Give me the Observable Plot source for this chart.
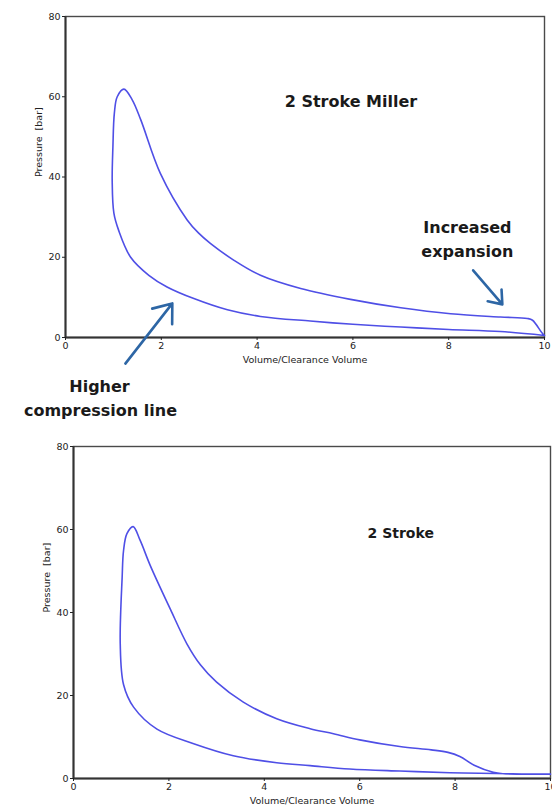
<!DOCTYPE html>
<html>
<head>
<meta charset="utf-8">
<script src="https://cdn.jsdelivr.net/npm/d3@7"></script>
<script src="https://cdn.jsdelivr.net/npm/@observablehq/plot@0.6"></script>
<style>
  html, body { margin: 0; padding: 0; background: #fff; overflow: hidden; }
  #charts svg { display: block; }
</style>
</head>
<body>
<div id="charts"></div>
<script>
// Axis ticks shared by both indicator diagrams
const xTicks = [0, 2, 4, 6, 8, 10];
const yTicks = [0, 20, 40, 60, 80];
const xTitle = "Volume/Clearance Volume";
const yTitle = "Pressure  [bar]";

// 2-stroke Miller cycle: compression (right to left), peak, expansion, blowdown
const millerVolume = [10.0, 9.08, 8.0, 7.0, 6.0, 5.11, 4.07, 3.38, 2.68, 2.12, 1.74, 1.36, 1.11, 1.01, 0.975, 0.99, 1.02, 1.08, 1.22,
  1.39, 1.57, 1.98, 2.54, 2.78, 3.03, 3.51, 4.07, 4.91, 5.95, 7.0, 8.04, 9.08, 9.64, 9.75, 9.95, 10.0];
const millerPressure = [0.5, 1.5, 2.0, 2.6, 3.3, 4.1, 5.25, 6.9, 9.7, 12.6, 15.5, 20.0, 26.7, 31.0, 39.0, 47.6, 55.9, 60.0, 61.9,
  59.3, 54.3, 40.9, 29.3, 26.0, 23.4, 19.3, 15.5, 12.2, 9.5, 7.4, 5.9, 5.1, 4.75, 4.3, 1.1, 0.5];

// Conventional 2-stroke cycle
const strokeVolume = [10.0, 9.4, 8.86, 7.89, 6.84, 5.79, 4.96, 4.26, 3.35, 2.52, 1.75, 1.26, 1.05, 0.98, 1.02, 1.05, 1.12, 1.25,
  1.40, 1.61, 2.03, 2.38, 2.66, 3.0, 3.56, 4.26, 4.96, 5.45, 6.0, 6.84, 7.5, 7.85, 8.1, 8.4, 8.8, 9.0, 10.0];
const strokePressure = [1.05, 1.1, 1.2, 1.4, 1.8, 2.3, 3.1, 3.8, 5.5, 8.4, 11.9, 17.2, 22.6, 32.4, 48.5, 55.0, 59.0, 60.7,
  57.3, 51.3, 40.8, 32.4, 27.4, 23.2, 18.4, 14.4, 12.0, 10.8, 9.3, 7.7, 6.9, 6.3, 5.3, 3.2, 1.5, 1.15, 1.05];

// Annotation labels and arrows (data coordinates)
const millerNotes = [
  {text: "2 Stroke Miller", v: 5.96, p: 58.7},
  {text: "Increased", v: 8.39, p: 27.2},
  {text: "expansion", v: 8.39, p: 21.3},
  {text: "Higher", v: 0.71, p: -12.2},
  {text: "compression line", v: 0.73, p: -18.2}
];
const millerArrows = [
  {v1: 1.25, p1: -6.5, v2: 2.23, p2: 8.5},
  {v1: 8.51, p1: 16.75, v2: 9.12, p2: 8.25}
];
const strokeNotes = [
  {text: "2 Stroke", v: 6.86, p: 59.0}
];

const font = "DejaVu Sans, sans-serif";

function pvChart({volume, pressure, notes, arrows, noteSize, height, mt, mb, ml, mr}) {
  const loop = volume.map((v, i) => ({v, p: pressure[i]}));
  return Plot.plot({
    width: 552,
    height,
    marginTop: mt, marginBottom: mb, marginLeft: ml, marginRight: mr,
    style: {fontFamily: font, fontSize: "9.5px", color: "#222", background: "#fff"},
    x: {domain: [0, 10]},
    y: {domain: [0, 80]},
    marks: [
      Plot.frame({stroke: "#4a4a4a", strokeWidth: 1.4}),
      Plot.ruleX([0], {stroke: "#333", strokeWidth: 2}),
      Plot.ruleY([0], {stroke: "#333", strokeWidth: 2}),
      Plot.axisX({ticks: xTicks, tickSize: 3, tickPadding: 2, label: null, tickFormat: d => String(d)}),
      Plot.axisY({ticks: yTicks, tickSize: 3, tickPadding: 2, label: null, tickFormat: d => String(d)}),
      Plot.text([xTitle], {frameAnchor: "bottom", dy: 25, text: d => d, fill: "#222", fontSize: 9.5}),
      Plot.text([yTitle], {frameAnchor: "left", dx: -27, rotate: -90, text: d => d, fill: "#222", fontSize: 9.5}),
      Plot.line(loop, {x: "v", y: "p", curve: "catmull-rom", stroke: "#4f4fe6", strokeWidth: 1.6}),
      Plot.arrow(arrows, {x1: "v1", y1: "p1", x2: "v2", y2: "p2", stroke: "#2d66a5", strokeWidth: 2.6, headLength: 12, headAngle: 75}),
      Plot.text(notes, {x: "v", y: "p", text: "text", fontWeight: "bold", fontSize: noteSize, fill: "#1a1a1a", fontFamily: font})
    ]
  });
}

const root = document.getElementById("charts");
root.append(pvChart({
  volume: millerVolume, pressure: millerPressure, notes: millerNotes, arrows: millerArrows, noteSize: 16,
  height: 430, mt: 16, mb: 93, ml: 65, mr: 8
}));
root.append(pvChart({
  volume: strokeVolume, pressure: strokePressure, notes: strokeNotes, arrows: [], noteSize: 14,
  height: 380, mt: 16, mb: 32, ml: 73, mr: 2
}));
</script>
</body>
</html>
